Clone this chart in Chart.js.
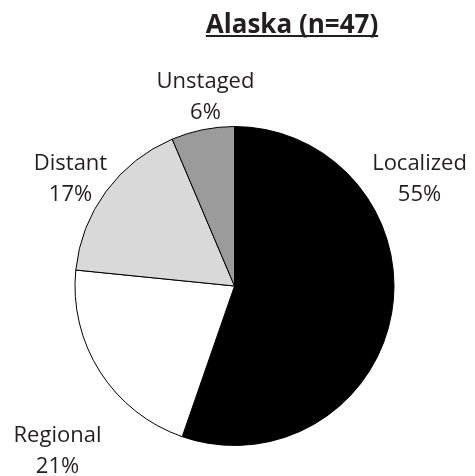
<!DOCTYPE html>
<html>
<head>
<meta charset="utf-8">
<script src="https://cdn.jsdelivr.net/npm/chart.js@4.4.1/dist/chart.umd.min.js"></script>
<style>
  html, body { margin: 0; padding: 0; background: #fff; }
</style>
</head>
<body>
<canvas id="canvas" width="475" height="476"></canvas>
<script>
const stages = ['Localized', 'Regional', 'Distant', 'Unstaged'];
const counts = [26, 10, 8, 3];
const chartTitle = 'Alaska (n=47)';

const sliceColors = ['#000000', '#ffffff', '#d9d9d9', '#9b9b9b'];
const textColor = '#231f20';
// where each label's first baseline sits, relative to the pie centre
const labelOffsets = [[185, -116], [-177, 156], [-164, -116], [-29, -198]];

const total = counts.reduce((a, b) => a + b, 0);
const percents = counts.map(c => Math.round(c / total * 100) + '%');

const pieLabels = {
  id: 'pieLabels',
  afterDraw(chart) {
    const c = chart.ctx;
    const arcs = chart.getDatasetMeta(0).data;
    c.save();
    c.fillStyle = textColor;
    c.textAlign = 'center';
    c.textBaseline = 'alphabetic';
    c.font = '22px "Open Sans"';
    arcs.forEach((arc, i) => {
      const x = arc.x + labelOffsets[i][0];
      const y = arc.y + labelOffsets[i][1];
      c.fillText(stages[i], x, y);
      c.fillText(percents[i], x, y + 31);
    });

    // underlined bold title
    c.font = 'bold 26px "Open Sans"';
    const tx = 292, ty = 33;
    c.fillText(chartTitle, tx, ty);
    const w = c.measureText(chartTitle).width;
    c.fillRect(tx - w / 2, ty + 2, w, 2);
    c.restore();
  }
};

new Chart(document.getElementById('canvas'), {
  type: 'pie',
  data: {
    labels: stages,
    datasets: [{
      data: counts,
      backgroundColor: sliceColors,
      borderColor: '#000000',
      borderWidth: 1
    }]
  },
  options: {
    responsive: false,
    animation: false,
    layout: { padding: { left: 74, right: 80, top: 126, bottom: 30 } },
    plugins: {
      legend: { display: false },
      tooltip: { enabled: false }
    }
  },
  plugins: [pieLabels]
});
</script>
</body>
</html>
